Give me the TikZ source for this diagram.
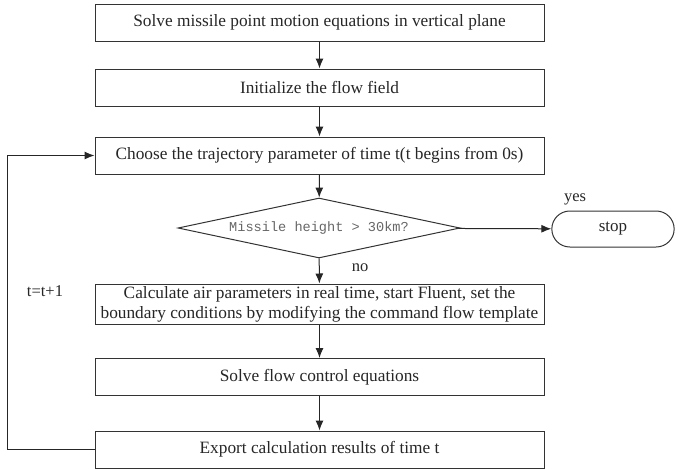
\documentclass[tikz,border=0pt]{standalone}
\usepackage{fontspec}
\setmainfont{Liberation Serif}
\setmonofont{Liberation Mono}
\usetikzlibrary{arrows.meta,shapes.geometric,shapes.misc}

\tikzset{
  stepbox/.style={draw=black!80, line width=1pt, minimum width=449pt, minimum height=37pt,
    inner sep=0pt, align=center, text=black!85, font=\fontsize{17.3}{20}\selectfont},
  testbox/.style={diamond, aspect=4.7, draw=black!80, line width=1pt, minimum width=282pt, minimum height=60pt,
    inner sep=0pt, text=black!60, font=\ttfamily\fontsize{13.6}{15}\selectfont},
  endbox/.style={rounded rectangle, draw=black!80, line width=1pt, minimum width=129pt,
    minimum height=36pt, text=black!85, font=\fontsize{17}{19}\selectfont},
  lbl/.style={text=black!85, font=\fontsize{16.5}{18}\selectfont},
  flow/.style={-{Latex[length=10pt,width=8pt]}, line width=1pt, black!85}
}

\begin{document}
\begin{tikzpicture}[x=1pt, y=-1pt]
\useasboundingbox (0,0) rectangle (678,469);

\node (solve) at (319.5, 22.5) [stepbox] {Solve missile point motion equations in vertical plane};
\node (init) at (319.5, 87.5) [stepbox] {Initialize the flow field};
\node (choose) at (319.5, 155.5) [stepbox] {Choose the trajectory parameter of time t(t begins from 0s)};
\node (test) at (319, 228) [testbox] {Missile height > 30km?};
\node (stop) at (613, 229) [endbox] {stop};
\node (calc) at (319.5, 304) [stepbox, minimum height=40pt] {Calculate air parameters in real time, start Fluent, set the\\boundary conditions by modifying the command flow template};
\node (flow) at (319.5, 377) [stepbox] {Solve flow control equations};
\node (export) at (319.5, 449.5) [stepbox] {Export calculation results of time t};

\node (yes) at (575, 199) [lbl] {yes};
\node (no) at (360, 268) [lbl] {no};
\node (incr) at (45, 291) [lbl] {t=t+1};

\coordinate (down) at (7, 449.5);
\coordinate (up) at (7, 155.5);

\draw[flow] (solve) -- (init);
\draw[flow] (init) -- (choose);
\draw[flow] (choose) -- (test);
\draw[flow] (test) -- (stop);
\draw[flow] (test) -- (calc);
\draw[flow] (calc) -- (flow);
\draw[flow] (flow) -- (export);
\draw[flow] (export.west) -- (down) -- (up) -- (choose.west);
\end{tikzpicture}
\end{document}
